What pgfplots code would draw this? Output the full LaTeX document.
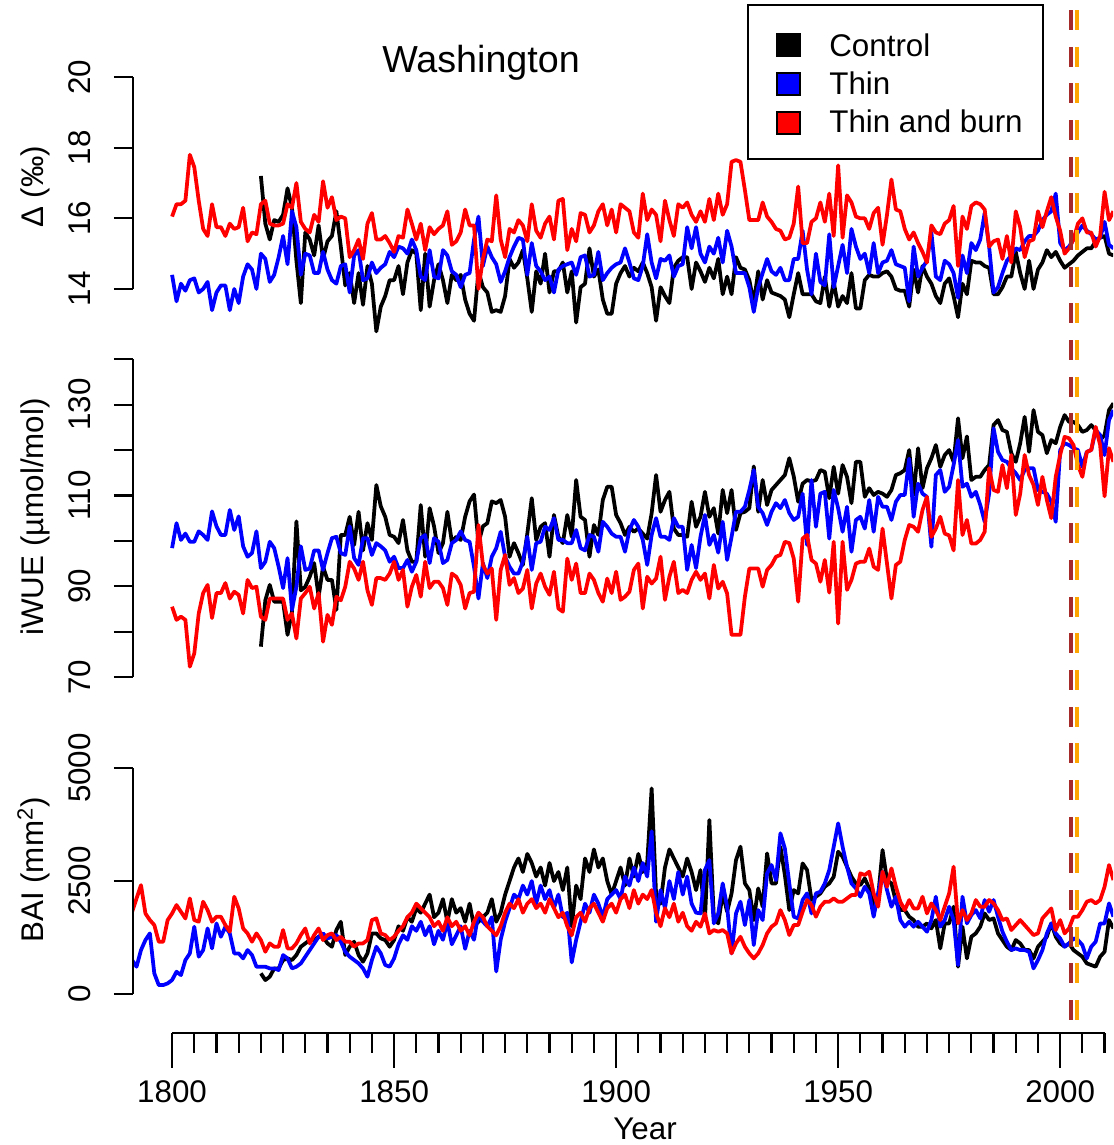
\documentclass[border=0pt]{standalone}
\usepackage{fontspec}
\setmainfont{Liberation Sans}
\usepackage{pgfplots}
\usepackage{pgfplotstable}
\pgfplotsset{compat=1.18}
\definecolor{dbrown}{RGB}{165,42,42}
\definecolor{dorange}{RGB}{255,165,0}

\pgfplotstableread{
Y C T B
1800 nan 14.4 16.05
1801 nan 13.65 16.4
1802 nan 14.15 16.4
1803 nan 13.95 16.5
1804 nan 14.25 17.8
1805 nan 14.3 17.45
1806 nan 13.9 16.5
1807 nan 14.0 15.7
1808 nan 14.2 15.5
1809 nan 13.4 16.4
1810 nan 13.9 15.75
1811 nan 14.1 15.75
1812 nan 14.1 15.5
1813 nan 13.4 15.85
1814 nan 14.0 15.7
1815 nan 13.6 15.75
1816 nan 14.35 16.3
1817 nan 14.7 15.35
1818 nan 14.55 15.6
1819 nan 14.0 15.55
1820 17.2 15.0 16.4
1821 15.85 14.85 16.5
1822 15.4 14.2 15.85
1823 15.95 14.4 15.8
1824 15.9 14.9 15.8
1825 16.1 15.5 15.85
1826 16.85 14.7 16.4
1827 16.3 16.2 16.3
1828 14.8 15.75 17.0
1829 13.6 14.4 15.9
1830 15.6 15.0 15.7
1831 15.4 14.95 15.6
1832 14.95 14.45 16.1
1833 15.8 14.45 15.9
1834 14.85 15.05 17.05
1835 15.35 14.55 16.3
1836 15.5 14.25 16.6
1837 16.2 14.15 15.95
1838 15.2 14.65 16.05
1839 14.1 14.7 16.0
1840 14.45 13.9 14.9
1841 13.6 14.95 15.1
1842 14.45 15.1 15.4
1843 13.55 14.25 14.85
1844 14.65 14.3 15.85
1845 14.15 14.75 16.15
1846 12.8 14.45 15.4
1847 13.5 14.6 15.4
1848 13.8 14.7 15.5
1849 14.25 15.05 15.3
1850 14.25 14.9 15.05
1851 14.65 15.2 15.5
1852 13.85 15.15 15.45
1853 14.75 15.0 16.25
1854 15.1 15.4 15.85
1855 15.0 15.1 15.4
1856 13.4 14.35 15.85
1857 15.0 14.25 15.1
1858 13.5 15.1 15.75
1859 14.25 14.35 15.55
1860 14.7 14.3 15.7
1861 14.25 15.1 15.8
1862 13.6 14.95 16.2
1863 14.4 14.5 15.25
1864 14.25 14.4 15.35
1865 14.4 14.05 15.6
1866 13.7 14.4 16.25
1867 13.3 14.45 15.8
1868 13.1 15.4 15.8
1869 14.5 16.05 14.0
1870 14.05 14.65 14.85
1871 13.9 15.2 15.4
1872 13.35 14.9 15.35
1873 13.4 14.7 16.65
1874 13.35 14.2 15.4
1875 13.8 14.5 14.9
1876 14.85 14.9 15.7
1877 14.6 15.2 15.6
1878 14.75 15.45 15.95
1879 15.1 15.4 15.8
1880 14.3 14.4 15.35
1881 13.35 15.3 16.4
1882 14.5 14.65 15.65
1883 14.15 14.5 15.45
1884 15.0 14.25 15.85
1885 13.9 14.35 16.05
1886 14.5 13.9 15.4
1887 14.5 14.55 16.5
1888 14.75 14.65 16.55
1889 13.9 14.7 15.1
1890 14.5 14.75 15.7
1891 13.05 14.4 15.35
1892 14.05 14.9 16.15
1893 14.15 14.95 16.1
1894 15.15 14.35 15.6
1895 14.35 14.4 15.8
1896 14.55 15.05 16.2
1897 13.7 14.25 16.4
1898 13.3 14.45 15.8
1899 13.3 14.6 16.25
1900 14.15 14.7 15.6
1901 14.45 14.75 16.4
1902 14.65 15.15 16.3
1903 14.35 14.75 16.2
1904 14.6 14.3 15.6
1905 14.5 14.25 15.45
1906 14.75 14.65 16.7
1907 14.45 15.55 15.95
1908 14.05 14.75 16.25
1909 13.1 14.3 16.1
1910 14.05 14.85 15.35
1911 13.8 14.8 16.5
1912 13.6 14.95 15.95
1913 14.6 14.35 15.5
1914 14.8 14.65 16.4
1915 14.9 14.7 16.3
1916 14.9 15.75 16.45
1917 14.0 15.15 16.1
1918 14.75 15.75 15.9
1919 14.5 15.0 16.2
1920 14.2 14.75 15.9
1921 14.6 15.2 16.55
1922 14.3 15.0 15.95
1923 14.85 15.45 16.7
1924 13.85 14.75 16.1
1925 14.35 15.65 16.4
1926 13.85 15.2 17.6
1927 14.9 14.45 17.65
1928 14.6 14.45 17.6
1929 14.55 14.45 16.8
1930 14.25 14.05 15.95
1931 13.6 13.35 15.95
1932 14.5 14.05 15.95
1933 13.7 14.45 16.45
1934 14.25 14.85 16.05
1935 13.9 14.5 15.9
1936 13.85 14.4 15.7
1937 13.8 14.6 15.65
1938 13.7 14.25 15.4
1939 13.2 14.25 15.45
1940 13.85 14.85 15.85
1941 14.45 14.85 16.9
1942 13.85 15.65 15.3
1943 13.85 14.55 15.3
1944 13.85 13.85 15.9
1945 13.65 15.0 16.0
1946 13.6 14.2 16.45
1947 14.35 14.1 15.9
1948 13.5 15.55 16.7
1949 14.2 14.05 15.5
1950 13.5 14.65 17.5
1951 13.8 15.25 15.45
1952 13.6 14.45 16.65
1953 14.45 15.7 16.45
1954 13.45 15.2 16.05
1955 13.45 14.85 16.0
1956 14.25 15.0 16.0
1957 14.4 14.45 15.7
1958 14.35 15.3 16.15
1959 14.35 14.45 16.3
1960 14.45 14.75 15.25
1961 14.5 14.8 16.1
1962 14.35 15.1 17.1
1963 14.0 14.7 16.25
1964 13.95 14.65 16.2
1965 13.95 14.6 15.7
1966 13.5 13.65 15.4
1967 14.55 15.2 15.6
1968 13.9 14.35 15.3
1969 14.65 14.6 15.05
1970 14.35 14.8 14.75
1971 14.15 15.6 15.8
1972 13.8 14.35 15.6
1973 13.6 14.25 15.55
1974 14.15 14.8 15.85
1975 14.3 14.7 15.95
1976 13.8 14.45 16.35
1977 13.2 13.75 14.65
1978 14.15 14.95 16.05
1979 13.85 14.45 15.7
1980 14.8 15.3 16.35
1981 14.75 15.1 16.45
1982 14.75 15.4 16.4
1983 14.65 16.15 16.25
1984 14.6 15.2 15.2
1985 13.85 13.9 15.35
1986 13.85 14.05 15.4
1987 14.05 14.45 14.85
1988 14.35 14.8 15.5
1989 14.35 14.95 14.75
1990 15.05 15.15 16.2
1991 14.45 15.1 15.75
1992 14.0 15.35 14.9
1993 14.8 15.5 15.35
1994 14.0 15.5 15.4
1995 14.55 15.65 16.2
1996 14.75 15.95 15.75
1997 15.1 16.1 16.2
1998 14.9 16.2 16.6
1999 15.05 16.7 16.05
2000 14.8 15.3 15.65
2001 14.6 15.1 15.0
2002 14.7 15.2 15.15
2003 14.8 15.4 15.4
2004 14.95 15.6 15.85
2005 15.05 15.8 16.0
2006 15.15 15.65 15.6
2007 15.15 15.55 15.6
2008 15.35 15.4 15.2
2009 15.45 15.45 15.5
2010 15.5 15.9 16.75
2011 15.0 15.25 15.95
2012 14.95 15.15 16.2
}\tabD

\pgfplotstableread{
Y C T B
1800 nan 98.4 85.5
1801 nan 103.9 82.6
1802 nan 100.2 83.3
1803 nan 101.6 82.6
1804 nan 99.8 72.3
1805 nan 99.8 75.2
1806 nan 102.1 84.0
1807 nan 101.3 88.5
1808 nan 100.2 90.3
1809 nan 106.5 83.0
1810 nan 103.2 88.5
1811 nan 101.3 88.5
1812 nan 101.3 90.7
1813 nan 106.8 87.3
1814 nan 102.4 88.8
1815 nan 105.4 88.1
1816 nan 98.8 84.0
1817 nan 96.5 91.4
1818 nan 97.3 89.6
1819 nan 102.1 89.9
1820 76.7 94.0 83.3
1821 86.9 95.4 82.6
1822 90.3 99.8 87.3
1823 86.6 98.4 87.3
1824 86.6 94.3 87.3
1825 86.6 89.6 87.3
1826 79.3 96.2 82.6
1827 84.4 84.8 84.0
1828 104.3 89.9 78.5
1829 89.1 98.8 87.3
1830 89.9 93.6 88.5
1831 92.1 93.9 89.9
1832 95.1 97.9 85.1
1833 87.7 97.9 88.5
1834 94.3 93.6 77.8
1835 91.4 97.3 83.7
1836 91.4 100.6 81.5
1837 84.8 100.9 87.7
1838 101.3 97.3 86.9
1839 101.3 96.9 89.9
1840 105.3 103.2 95.4
1841 99.1 96.2 93.9
1842 106.4 94.7 91.4
1843 97.9 100.6 95.4
1844 103.9 100.6 89.1
1845 100.2 96.9 85.9
1846 112.3 99.5 91.8
1847 107.6 98.8 91.8
1848 105.3 97.9 91.4
1849 101.3 95.4 92.8
1850 100.9 96.5 95.4
1851 99.5 94.0 91.4
1852 104.6 94.0 93.6
1853 97.9 95.8 85.5
1854 95.4 93.2 89.9
1855 95.4 95.4 92.5
1856 107.9 100.6 87.7
1857 96.5 101.3 95.4
1858 107.2 95.1 89.6
1859 103.2 100.6 91.0
1860 97.3 99.8 91.0
1861 99.5 95.1 89.6
1862 106.4 95.8 85.9
1863 99.8 99.5 92.8
1864 100.9 100.2 92.1
1865 100.2 102.1 90.3
1866 105.3 100.2 85.1
1867 108.7 99.8 88.5
1868 110.2 94.3 88.8
1869 99.5 87.3 103.5
1870 103.2 95.1 94.7
1871 103.9 91.8 92.8
1872 108.7 96.5 93.9
1873 108.3 98.4 82.6
1874 109.0 102.0 93.6
1875 105.3 96.5 96.9
1876 96.5 94.3 90.3
1877 99.5 92.8 91.8
1878 97.3 92.8 88.5
1879 94.7 95.4 89.5
1880 101.6 100.9 93.6
1881 109.4 93.6 85.1
1882 100.2 99.5 90.6
1883 103.1 99.8 92.8
1884 103.9 103.1 89.9
1885 96.5 102.4 88.1
1886 105.7 105.0 93.2
1887 100.9 100.2 85.1
1888 99.5 100.2 84.4
1889 105.7 99.5 96.1
1890 100.9 99.5 91.4
1891 113.4 102.4 95.0
1892 105.3 98.4 88.5
1893 104.6 97.9 88.5
1894 96.5 101.3 92.8
1895 103.5 100.9 91.4
1896 101.3 97.6 88.5
1897 109.0 104.2 86.6
1898 111.9 103.1 91.7
1899 111.9 101.6 88.5
1900 105.7 100.9 93.2
1901 103.9 100.9 87.0
1902 101.3 97.6 87.7
1903 103.1 102.4 88.8
1904 102.0 104.6 93.6
1905 102.7 103.1 95.0
1906 101.6 100.2 85.1
1907 100.5 94.7 92.1
1908 106.1 101.3 90.6
1909 114.5 105.0 91.7
1910 106.4 100.9 96.5
1911 109.0 100.9 87.0
1912 110.8 100.2 92.1
1913 102.7 105.0 95.4
1914 101.3 103.1 88.5
1915 101.3 103.1 89.2
1916 100.9 93.6 88.5
1917 108.6 99.1 91.4
1918 103.1 94.0 93.2
1919 105.3 100.9 91.4
1920 110.8 105.7 92.8
1921 105.3 99.1 87.3
1922 107.2 101.3 94.7
1923 101.6 97.4 89.5
1924 111.2 104.2 91.0
1925 106.1 95.8 88.4
1926 111.2 100.9 79.3
1927 102.4 106.4 79.3
1928 106.1 106.4 79.3
1929 106.4 107.5 87.7
1930 107.2 111.2 93.9
1931 116.4 115.6 93.9
1932 106.4 107.5 93.9
1933 113.4 106.1 89.9
1934 107.9 103.5 93.6
1935 111.2 106.4 94.7
1936 112.3 108.3 96.5
1937 113.4 107.2 96.9
1938 114.5 109.0 99.8
1939 118.2 106.1 99.5
1940 114.2 104.6 96.1
1941 108.6 105.3 86.6
1942 112.6 110.4 100.5
1943 113.4 99.1 101.3
1944 113.1 113.4 95.8
1945 113.4 103.1 95.0
1946 115.6 110.4 91.0
1947 115.2 110.8 95.8
1948 109.4 100.5 88.6
1949 116.3 111.2 99.8
1950 110.4 107.2 81.8
1951 116.7 102.0 99.8
1952 114.1 107.5 89.2
1953 108.3 97.6 91.4
1954 117.4 104.6 95.0
1955 117.4 105.3 95.4
1956 109.7 102.7 95.4
1957 111.6 109.0 98.3
1958 110.1 102.0 94.3
1959 110.8 109.7 93.6
1960 110.4 107.5 102.7
1961 109.7 107.5 95.0
1962 111.2 104.6 87.3
1963 114.5 108.6 94.7
1964 114.9 110.1 95.4
1965 115.6 110.1 100.2
1966 120.0 118.1 103.5
1967 110.1 105.3 103.1
1968 120.4 112.6 102.0
1969 111.6 110.4 106.8
1970 116.0 109.7 109.7
1971 118.2 98.7 100.9
1972 121.1 114.5 102.7
1973 116.3 115.6 105.3
1974 118.9 110.8 101.6
1975 120.0 111.9 101.2
1976 117.4 116.7 97.9
1977 127.0 122.2 113.4
1978 118.2 111.9 101.3
1979 123.0 112.6 104.6
1980 113.4 109.7 99.4
1981 114.1 110.8 99.4
1982 114.1 107.9 100.2
1983 115.6 104.2 102.0
1984 116.7 110.4 116.0
1985 125.5 124.8 111.2
1986 126.6 119.6 110.8
1987 124.4 117.8 116.7
1988 124.0 117.4 111.6
1989 119.3 116.0 118.9
1990 117.4 114.9 105.7
1991 121.5 113.4 110.4
1992 127.3 115.6 118.9
1993 119.6 116.0 114.5
1994 128.8 116.0 112.3
1995 124.0 111.2 107.9
1996 123.3 110.8 114.1
1997 119.3 110.4 109.0
1998 122.2 108.6 105.0
1999 121.5 104.2 114.1
2000 125.1 120.0 118.9
2001 127.7 121.5 122.9
2002 126.2 121.1 122.6
2003 126.2 120.4 121.1
2004 125.5 120.0 116.7
2005 124.0 116.3 114.1
2006 124.4 119.6 119.6
2007 125.5 120.0 120.0
2008 124.4 124.4 125.1
2009 122.2 123.3 121.1
2010 123.3 118.9 109.8
2011 128.8 126.6 120.4
2012 130.3 128.8 117.4
}\tabW

\pgfplotstableread{
Y C T B
1791 nan 752 1820
1792 nan 605 2116
1793 nan 973 2410
1794 nan 1195 1784
1795 nan 1342 1637
1796 nan 457 1526
1797 nan 199 1158
1798 nan 199 1158
1799 nan 236 1637
1800 nan 310 1784
1801 nan 494 1969
1802 nan 420 1821
1803 nan 752 1673
1804 nan 900 2116
1805 nan 1490 1637
1806 nan 826 1600
1807 nan 973 2043
1808 nan 1452 1858
1809 nan 1010 1600
1810 nan 1563 1711
1811 nan 1268 1711
1812 nan 1490 1526
1813 nan 1342 1379
1814 nan 900 2153
1815 nan 900 1895
1816 nan 789 1452
1817 nan 973 1342
1818 nan 863 1158
1819 nan 605 1342
1820 457 605 1195
1821 310 605 936
1822 384 568 1121
1823 568 568 1047
1824 568 531 1047
1825 752 863 1416
1826 789 789 1010
1827 752 568 1010
1828 863 605 1121
1829 1047 679 1305
1830 1121 826 1452
1831 1195 973 1121
1832 1195 1121 1305
1833 1268 1268 1452
1834 1268 1342 1195
1835 1121 1231 1305
1836 1047 1268 1342
1837 1416 1305 1195
1838 1600 1158 1268
1839 863 936 1158
1840 1047 826 1158
1841 1158 752 1047
1842 863 679 1121
1843 716 568 1121
1844 900 384 1195
1845 1342 752 1637
1846 1342 1047 1673
1847 1231 900 1342
1848 1195 642 1305
1849 1047 605 1195
1850 1195 789 1268
1851 1500 1100 1400
1852 1400 1300 1500
1853 1700 1200 1700
1854 1600 1500 1800
1855 1900 1400 2000
1856 1800 1600 1900
1857 2000 1300 1800
1858 2200 1500 1700
1859 1700 1100 1500
1860 1800 1400 1600
1861 2100 1200 1400
1862 1600 1600 1700
1863 2100 1100 1500
1864 1800 1300 1600
1865 1900 1500 1400
1866 1600 1000 1500
1867 2000 1400 1300
1868 1500 1200 1600
1869 1600 1800 1800
1870 1700 1600 1700
1871 1800 1500 1500
1872 2100 1700 1400
1873 1600 500 1300
1874 1800 1200 1500
1875 2200 1600 1800
1876 2500 1900 2000
1877 2800 2200 1900
1878 3000 2100 2100
1879 2700 2400 1800
1880 3100 2200 2000
1881 2900 2500 2100
1882 2600 2000 1900
1883 2800 2400 2000
1884 2400 2100 1800
1885 2900 2300 2100
1886 2500 1900 1900
1887 2700 2200 1700
1888 2300 1700 1800
1889 2800 1800 1500
1890 1500 700 1300
1891 2400 1200 1700
1892 2100 1600 1800
1893 3000 2000 1600
1894 2700 1800 1900
1895 3200 2200 2000
1896 2800 2000 1800
1897 3000 1700 1600
1898 2500 2100 1900
1899 2200 2200 2000
1900 2500 2300 1800
1901 2800 2100 2100
1902 2400 2600 2200
1903 3000 2400 1900
1904 2600 2800 2300
1905 3100 2500 2000
1906 2700 2900 2200
1907 2900 2600 2100
1908 4550 3600 2300
1909 2200 1600 1800
1910 2000 2300 1500
1911 2800 1900 1900
1912 3200 2500 1700
1913 3000 2100 2000
1914 2800 2700 1600
1915 2600 2200 1800
1916 3000 2600 1500
1917 2700 2000 1400
1918 2300 1800 1600
1919 2743 1784 1490
1920 1637 2743 1784
1921 3850 2965 1342
1922 1711 1563 1416
1923 1563 1784 1379
1924 2227 2448 1416
1925 1821 1932 1342
1926 2227 900 900
1927 2965 1784 1121
1928 3260 2043 1268
1929 2448 1526 1047
1930 2301 2080 900
1931 1637 1084 789
1932 2338 1858 900
1933 1932 1637 1084
1934 3112 2670 1342
1935 2448 2854 1490
1936 2448 2522 1563
1937 3260 3555 1858
1938 2633 3223 1637
1939 1858 2448 1305
1940 2301 1711 1526
1941 2227 1674 1526
1942 2891 2080 1821
1943 2743 2227 2080
1944 2080 1784 1969
1945 2153 2227 1711
1946 2227 2264 1932
1947 2375 2448 2043
1948 2448 2743 2043
1949 2596 3260 2116
1950 3149 3776 2043
1951 3038 3260 2043
1952 2817 2817 2116
1953 2596 2448 2190
1954 2448 2338 2190
1955 2411 2153 2670
1956 2559 2375 2633
1957 2338 2227 2707
1958 1969 1711 2227
1959 2153 2227 1932
1960 3186 2707 2707
1961 2522 2301 2375
1962 2448 1932 2780
1963 2043 2153 2375
1964 1858 1637 2043
1965 1858 1490 1858
1966 1711 1600 2080
1967 1637 1490 1895
1968 1490 1600 1895
1969 1490 1490 2153
1970 1563 1379 1784
1971 1452 1637 2006
1972 1637 2153 1858
1973 1010 1490 1637
1974 1563 1637 1932
1975 1563 1932 2227
1976 1932 1637 2817
1977 605 642 1563
1978 1490 2153 1858
1979 789 1563 1637
1980 1268 1748 1784
1981 1342 1858 2080
1982 1490 1674 1932
1983 1784 2080 1932
1984 1637 1821 2080
1985 1674 2080 2006
1986 1342 1711 1858
1987 1195 1379 1637
1988 1047 1158 1674
1989 973 973 1416
1990 1195 1010 1526
1991 1121 973 1637
1992 973 973 1526
1993 973 937 1416
1994 789 568 1305
1995 1047 752 1342
1996 1158 973 1674
1997 1268 1342 1784
1998 1563 1563 1895
1999 1268 1342 1416
2000 1121 1231 1637
2001 1047 1047 1342
2002 1121 1121 1453
2003 973 1231 1711
2004 900 1195 1711
2005 826 1084 1858
2006 679 789 2043
2007 642 1047 2080
2008 605 1158 2006
2009 826 1563 2080
2010 937 1563 2375
2011 1637 2006 2854
2012 1452 1711 2522
}\tabB

\pgfplotsset{
  panel/.style={
    scale only axis, width=588pt, xmin=1791.2, xmax=2011.9,
    anchor=south west,
    axis x line=none, axis y line*=left,
    y axis line style={draw=none},
    tick align=outside, major tick length=11.4pt,
    tick style={black, line width=1.3pt},
    clip mode=individual,
    tick label style={font=\fontsize{18.8}{22}\selectfont},
    yticklabel style={xshift=-13.8pt, rotate=90, anchor=base, inner sep=0pt},
    every axis plot/.append style={line width=2.25pt, line join=round},
  }
}

\begin{document}
\begin{tikzpicture}
\fontsize{18.8}{22}\selectfont
\path[use as bounding box] (0,0) rectangle (667.8pt,687pt);

% top panel: Delta
\begin{axis}[panel, at={(79.8pt,479.7pt)}, height=165.3pt,
  ymin=12.4, ymax=20.2, ytick={14,16,18,20}, yticklabels={14,16,18,20}]
\addplot[black] table[x=Y,y=C]{\tabD};
\addplot[blue] table[x=Y,y=T]{\tabD};
\addplot[red] table[x=Y,y=B]{\tabD};
\draw[line width=1.3pt] (axis cs:1791.2,14) -- (axis cs:1791.2,20);
\end{axis}

% middle panel: iWUE
\begin{axis}[panel, at={(79.8pt,275.3pt)}, height=201.6pt,
  ymin=68, ymax=142, ytick={70,80,...,140}, yticklabels={70,,90,,110,,130,}]
\addplot[black] table[x=Y,y=C]{\tabW};
\addplot[blue] table[x=Y,y=T]{\tabW};
\addplot[red] table[x=Y,y=B]{\tabW};
\draw[line width=1.3pt] (axis cs:1791.2,70) -- (axis cs:1791.2,140);
\end{axis}

% bottom panel: BAI
\begin{axis}[panel, at={(79.8pt,77.0pt)}, height=154.6pt,
  ymin=-500, ymax=5200, ytick={0,2500,5000}, yticklabels={0,2500,5000}]
\addplot[black] table[x=Y,y=C]{\tabB};
\addplot[blue] table[x=Y,y=T]{\tabB};
\addplot[red] table[x=Y,y=B]{\tabB};
\draw[line width=1.3pt] (axis cs:1791.2,0) -- (axis cs:1791.2,5000);
\end{axis}

% shared x axis and reference years
\begin{axis}[scale only axis, width=588pt, height=616.8pt,
  at={(79.8pt,67.2pt)}, anchor=south west,
  xmin=1791.2, xmax=2011.9, ymin=0, ymax=1,
  axis y line=none, axis x line*=bottom, x axis line style={draw=none},
  tick align=outside, major tick length=21pt, minor tick length=12pt,
  tick style={black, line width=1.3pt},
  xtick={1800,1850,1900,1950,2000}, xticklabels={1800,1850,1900,1950,2000},
  minor xtick={1805,1810,...,2010},
  tick label style={font=\fontsize{18.8}{22}\selectfont},
  xticklabel style={anchor=base, inner sep=0pt, yshift=-21pt},
  clip mode=individual]
\addplot[dbrown, line width=2.4pt, dash pattern=on 12pt off 10pt] coordinates {(2002.4,0.995) (2002.4,0)};
\addplot[dorange, line width=2.4pt, dash pattern=on 12pt off 10pt] coordinates {(2003.9,0.995) (2003.9,0)};
\draw[line width=1.3pt] (axis cs:1800,0) -- (axis cs:2010,0);
\end{axis}

\begin{scope}[x=0.6pt, y=-0.6pt, yshift=687pt]
% title
\node[anchor=base, font=\fontsize{22.6}{26}\selectfont, inner sep=0pt] at (481,73) {Washington};
% y labels
\node[rotate=90, anchor=base, inner sep=0pt] at (43,187) {Δ (‰)};
\node[rotate=90, anchor=base, inner sep=0pt] at (43,517) {iWUE (µmol/mol)};
\node[rotate=90, anchor=base, inner sep=0pt] at (43,870) {BAI (mm\textsuperscript{2})};
% x label
\node[anchor=base, inner sep=0pt] at (645,1139) {Year};
% legend
\draw[line width=1.2pt, fill=white] (748,5.5) rectangle (1043,159);
\draw[line width=0.9pt, fill=black] (777,34) rectangle (800,56);
\draw[line width=0.9pt, fill=blue] (777,73) rectangle (800,95);
\draw[line width=0.9pt, fill=red] (777,112) rectangle (800,134);
\node[anchor=base west, inner sep=0pt] at (829,57) {Control};
\node[anchor=base west, inner sep=0pt] at (829,95) {Thin};
\node[anchor=base west, inner sep=0pt] at (829,133) {Thin and burn};
\end{scope}
\end{tikzpicture}
\end{document}
